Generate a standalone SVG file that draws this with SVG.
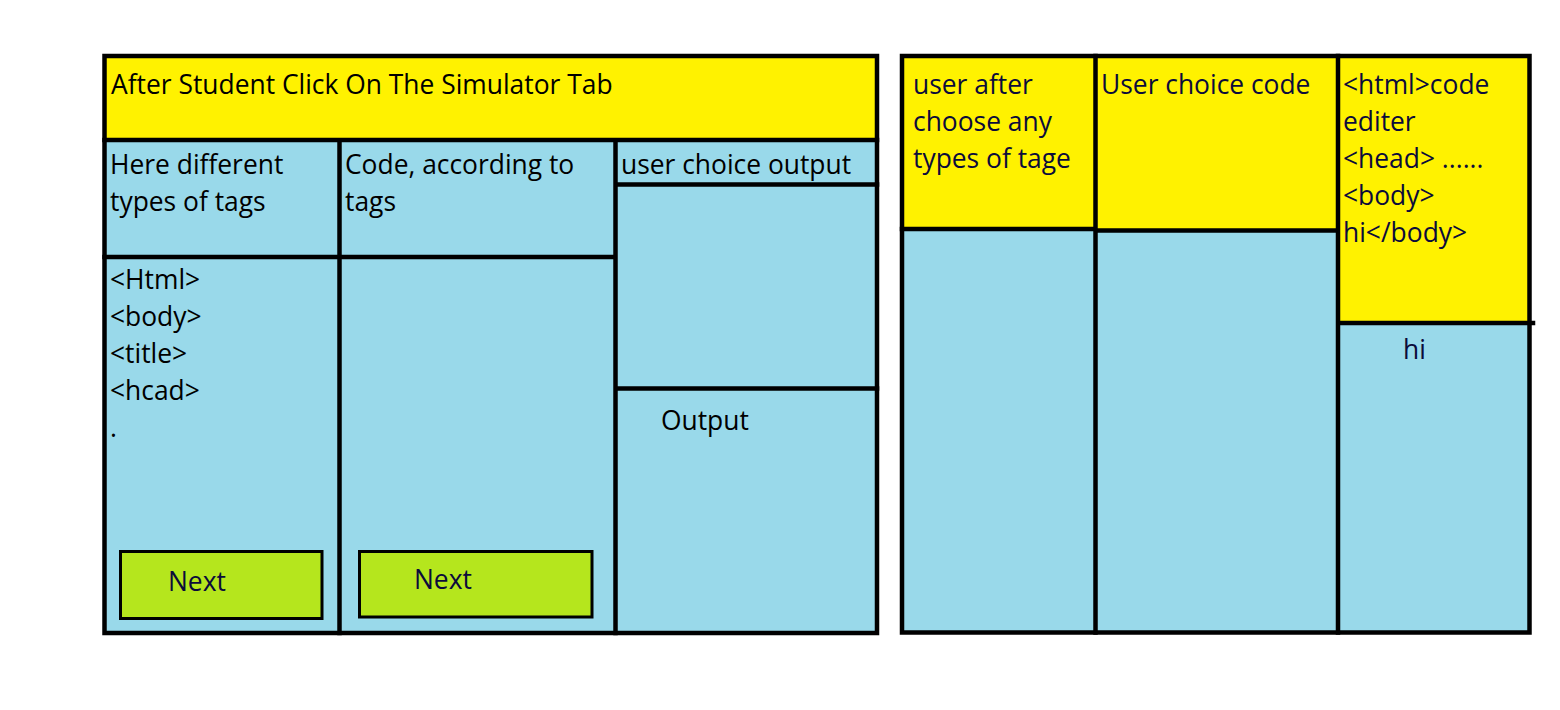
<svg xmlns="http://www.w3.org/2000/svg" width="1560" height="710" viewBox="0 0 1560 710">
<style>
.bl{fill:#99d9ea}
.ye{fill:#fff200}
.gr{fill:#b5e61d;stroke:#000;stroke-width:3}
.ln{stroke:#000;stroke-width:4.5;fill:none;stroke-linecap:square}
.t{font-family:"Open Sans",Lato,"Liberation Sans",sans-serif;font-size:26.4px;fill:#000}
.n{fill:#0b0b3b}
</style>
<rect width="1560" height="710" fill="#fff"/>
<g id="left-panel">
  <g id="header"><rect class="ye" x="104.5" y="56" width="772.5" height="84"/>
    <text class="t" x="111" y="94">After Student Click On The Simulator Tab</text></g>
  <g id="tags-title"><rect class="bl" x="104.5" y="140" width="235" height="117"/>
    <text class="t" x="110" y="174">Here different</text><text class="t" x="110" y="211">types of tags</text></g>
  <g id="code-title"><rect class="bl" x="339.5" y="140" width="276" height="117"/>
    <text class="t" x="345" y="174">Code, according to</text><text class="t" x="345" y="211">tags</text></g>
  <g id="output-title"><rect class="bl" x="615.5" y="140" width="261.5" height="44.5"/>
    <text class="t" x="621" y="174">user choice output</text></g>
  <g id="output-preview"><rect class="bl" x="615.5" y="184.5" width="261.5" height="204"/></g>
  <g id="output"><rect class="bl" x="615.5" y="388.5" width="261.5" height="244.5"/>
    <text class="t" x="661" y="430">Output</text></g>
  <g id="tags-list"><rect class="bl" x="104.5" y="257" width="235" height="376"/>
    <text class="t" x="110" y="289">&lt;Html&gt;</text>
    <text class="t" x="110" y="326">&lt;body&gt;</text>
    <text class="t" x="110" y="363">&lt;title&gt;</text>
    <text class="t" x="110" y="400">&lt;hcad&gt;</text>
    <text class="t" x="110" y="437">.</text></g>
  <g id="code-area"><rect class="bl" x="339.5" y="257" width="276" height="376"/></g>
  <g id="next1"><rect class="gr" x="120.5" y="551.5" width="201.5" height="67"/>
    <text class="t n" x="168" y="591">Next</text></g>
  <g id="next2"><rect class="gr" x="359.5" y="551.5" width="232.5" height="65.5"/>
    <text class="t n" x="414" y="589">Next</text></g>
</g>
<g id="right-panel">
  <rect class="bl" x="902" y="56" width="627.5" height="576.5"/>
  <g id="choose-tag"><rect class="ye" x="902" y="56" width="193.5" height="173"/>
    <text class="t n" x="913" y="94">user after</text>
    <text class="t n" x="913" y="131">choose any</text>
    <text class="t n" x="913" y="168">types of tage</text></g>
  <g id="choice-code"><rect class="ye" x="1095.5" y="56" width="242.5" height="174.5"/>
    <text class="t n" x="1101" y="94">User choice code</text></g>
  <g id="code-editor"><rect class="ye" x="1338" y="56" width="191.5" height="267"/>
    <text class="t n" x="1343" y="94">&lt;html&gt;code</text>
    <text class="t n" x="1343" y="131">editer</text>
    <text class="t n" x="1343" y="168">&lt;head&gt; ......</text>
    <text class="t n" x="1343" y="205">&lt;body&gt;</text>
    <text class="t n" x="1343" y="242">hi&lt;/body&gt;</text></g>
  <g id="result"><text class="t n" x="1403" y="359">hi</text></g>
</g>
<g id="connectors">
  <rect class="ln" x="104.5" y="56" width="772.5" height="577"/>
  <path class="ln" d="M104.5 140H877M339.5 140V633M615.5 140V633M104.5 257H615.5M615.5 184.5H877M615.5 388.5H877"/>
  <rect class="ln" x="902" y="56" width="627.5" height="576.5"/>
  <path class="ln" d="M902 229H1095.5M1095.5 230.5H1338M1338 323H1533M1095.5 56V632.5M1338 56V632.5"/>
</g>
</svg>
